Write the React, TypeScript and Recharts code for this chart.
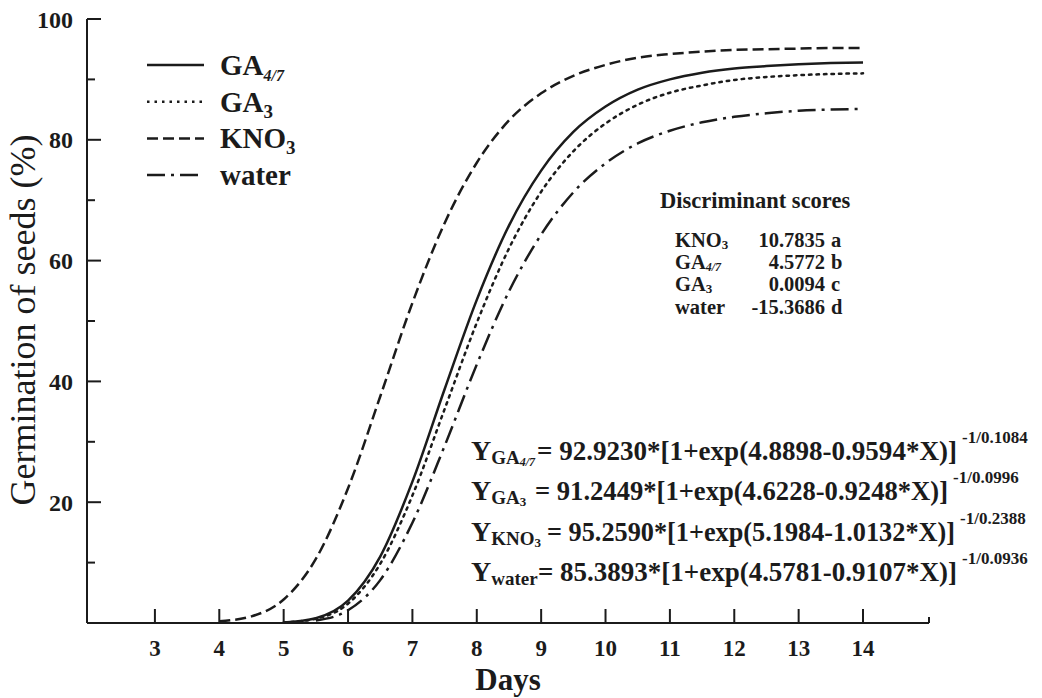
import React from 'react';
import { LineChart, Line, XAxis, YAxis } from 'recharts';

// germination curves (0.5 day steps)
const days = [4, 4.5, 5, 5.5, 6, 6.5, 7, 7.5, 8, 8.5, 9, 9.5, 10, 10.5, 11, 11.5, 12, 12.5, 13, 13.5, 14];
const kno3 = [0.3, 1.1, 3.9, 10.6, 22.3, 37.5, 53.0, 66.2, 76.2, 83.2, 87.7, 90.6, 92.4, 93.6, 94.2, 94.6, 94.9, 95.0, 95.1, 95.2, 95.2];
const ga47 = [null, null, 0.1, 0.8, 3.7, 11.0, 23.4, 38.7, 53.5, 65.8, 74.9, 81.3, 85.5, 88.3, 90.0, 91.1, 91.8, 92.2, 92.5, 92.7, 92.8];
const ga3 = [null, null, 0.1, 0.7, 3.2, 9.8, 21.1, 35.4, 49.7, 62.0, 71.4, 78.1, 82.7, 85.8, 87.8, 89.0, 89.9, 90.4, 90.7, 90.9, 91.0];
const water = [null, null, null, 0.4, 2.1, 7.1, 16.6, 29.3, 42.8, 54.9, 64.3, 71.3, 76.1, 79.4, 81.5, 82.9, 83.8, 84.4, 84.8, 85.0, 85.1];

const xTicks = [3, 4, 5, 6, 7, 8, 9, 10, 11, 12, 13, 14];
const yTicks = [10, 20, 30, 40, 50, 60, 70, 80, 90, 100];

const legendNames = ['GA', 'GA', 'KNO', 'water'];
const legendSubs = ['4/7', '3', '3', ''];

const discNames = ['KNO', 'GA', 'GA', 'water'];
const discSubs = ['3', '4/7', '3', ''];
const discScores = ['10.7835', '4.5772', '0.0094', '-15.3686'];
const discGroups = ['a', 'b', 'c', 'd'];

const eqNames = ['GA', 'GA', 'KNO', 'water'];
const eqSubs = ['4/7', '3', '3', ''];
const eqBodies = [
  '= 92.9230*[1+exp(4.8898-0.9594*X)]',
  '= 91.2449*[1+exp(4.6228-0.9248*X)]',
  '= 95.2590*[1+exp(5.1984-1.0132*X)]',
  '= 85.3893*[1+exp(4.5781-0.9107*X)]',
];
const eqPowers = ['-1/0.1084', '-1/0.0996', '-1/0.2388', '-1/0.0936'];

const rows = days.map((d, i) => ({
  day: d,
  kno3: kno3[i],
  ga47: ga47[i],
  ga3: ga3[i],
  water: water[i],
}));

const INK = '#1b1b1b';
const SERIF = "'Liberation Serif', 'Times New Roman', serif";

// dash pattern per series, same order as the legend
const dashes = ['', '2.5 5', '11 5', '18 6 3 6'];

const XTick = (props: any) => {
  const { x, y, payload } = props;
  const last = payload.value > 14.5;
  return (
    <g>
      <line x1={x} y1={y} x2={x} y2={y - (last ? 6 : 14)} stroke={INK} strokeWidth={2} />
      {!last && (
        <text x={x} y={y + 33} textAnchor="middle" fontFamily={SERIF} fontWeight="bold" fontSize={23} fill={INK}>
          {payload.value}
        </text>
      )}
    </g>
  );
};

const YTick = (props: any) => {
  const { x, y, payload } = props;
  const major = payload.value % 20 === 0;
  return (
    <g>
      <line x1={x} y1={y} x2={x + (major ? 14 : 8)} y2={y} stroke={INK} strokeWidth={2} />
      {major && (
        <text x={x - 14} y={y + 8.5} textAnchor="end" fontFamily={SERIF} fontWeight="bold" fontSize={24} fill={INK}>
          {payload.value}
        </text>
      )}
    </g>
  );
};

const eqStart = [537, 535, 547, 538];
const eqEnd = [957, 948, 955, 957];

const Annotations = () => (
  <svg width={1042} height={698} style={{ position: 'absolute', left: 0, top: 0, pointerEvents: 'none' }}>
    {/* axis titles */}
    <text
      transform="translate(35,320) rotate(-90)"
      textAnchor="middle"
      fontFamily={SERIF}
      fontSize={36}
      fill={INK}
    >
      Germination of seeds (%)
    </text>
    <text x={508} y={690} textAnchor="middle" fontFamily={SERIF} fontWeight="bold" fontSize={31} fill={INK}>
      Days
    </text>

    {/* legend */}
    {legendNames.map((n, i) => {
      const ly = 65 + i * 36.7;
      return (
        <g key={'lg' + i}>
          <line x1={147} y1={ly} x2={204} y2={ly} stroke={INK} strokeWidth={2.5} strokeDasharray={dashes[i] || undefined} />
          <text x={220} y={ly + 10} fontFamily={SERIF} fontWeight="bold" fontSize={29} fill={INK}>
            {n}
            {legendSubs[i] && (
              <tspan fontSize={legendSubs[i].length > 1 ? 16 : 19} fontStyle={legendSubs[i].length > 1 ? 'italic' : 'normal'} dy={6}>
                {legendSubs[i]}
              </tspan>
            )}
          </text>
        </g>
      );
    })}

    {/* discriminant scores */}
    <text x={660} y={208} fontFamily={SERIF} fontWeight="bold" fontSize={22.5} fill={INK}>
      Discriminant scores
    </text>
    {discNames.map((n, i) => {
      const by = 247 + i * 22.2;
      return (
        <g key={'ds' + i} fontFamily={SERIF} fontWeight="bold" fill={INK}>
          <text x={675} y={by} fontSize={20.5}>
            {n}
            {discSubs[i] && (
              <tspan fontSize={discSubs[i].length > 1 ? 12 : 13} fontStyle={discSubs[i].length > 1 ? 'italic' : 'normal'} dy={1.5}>
                {discSubs[i]}
              </tspan>
            )}
          </text>
          <text x={825} y={by} fontSize={20.5} textAnchor="end">
            {discScores[i]}
          </text>
          <text x={831} y={by} fontSize={20.5}>
            {discGroups[i]}
          </text>
        </g>
      );
    })}

    {/* fitted equations */}
    {eqNames.map((n, i) => {
      const by = 460 + i * 40.4;
      return (
        <g key={'eq' + i} fontFamily={SERIF} fontWeight="bold" fill={INK}>
          <text x={471} y={by} fontSize={28}>
            Y
            <tspan fontSize={19} dy={4}>
              {n}
            </tspan>
            {eqSubs[i] && (
              <tspan fontSize={eqSubs[i].length > 1 ? 12 : 13} fontStyle={eqSubs[i].length > 1 ? 'italic' : 'normal'} dy={2}>
                {eqSubs[i]}
              </tspan>
            )}
          </text>
          <text x={eqStart[i]} y={by} fontSize={26.5} textLength={eqEnd[i] - eqStart[i]} lengthAdjust="spacingAndGlyphs">
            {eqBodies[i]}
          </text>
          <text x={eqEnd[i] + 5} y={by - 17} fontSize={17}>
            {eqPowers[i]}
          </text>
        </g>
      );
    })}
  </svg>
);

export default function App() {
  return (
    <div style={{ position: 'absolute', left: 0, top: 0, width: 1042, height: 698, background: '#fff' }}>
      <LineChart width={1042} height={698} data={rows} margin={{ top: 19, right: 113, bottom: 45, left: 27 }}>
        <XAxis
          dataKey="day"
          type="number"
          domain={[1.945, 15.025]}
          ticks={[...xTicks, 15.025]}
          interval={0}
          allowDataOverflow
          height={30}
          tickSize={0}
          tickMargin={0}
          tickLine={false}
          tick={<XTick />}
          axisLine={{ stroke: INK, strokeWidth: 2 }}
        />
        <YAxis
          type="number"
          domain={[0, 100]}
          ticks={yTicks}
          interval={0}
          allowDataOverflow
          width={60}
          tickSize={0}
          tickMargin={0}
          tickLine={false}
          tick={<YTick />}
          axisLine={{ stroke: INK, strokeWidth: 2 }}
        />
        <Line type="monotone" dataKey="ga47" stroke={INK} strokeWidth={2.5} dot={false} isAnimationActive={false} />
        <Line type="monotone" dataKey="ga3" stroke={INK} strokeWidth={2.5} strokeDasharray={dashes[1]} strokeLinecap="round" dot={false} isAnimationActive={false} />
        <Line type="monotone" dataKey="kno3" stroke={INK} strokeWidth={2.5} strokeDasharray={dashes[2]} dot={false} isAnimationActive={false} />
        <Line type="monotone" dataKey="water" stroke={INK} strokeWidth={2.5} strokeDasharray={dashes[3]} dot={false} isAnimationActive={false} />
      </LineChart>
      <Annotations />
    </div>
  );
}
